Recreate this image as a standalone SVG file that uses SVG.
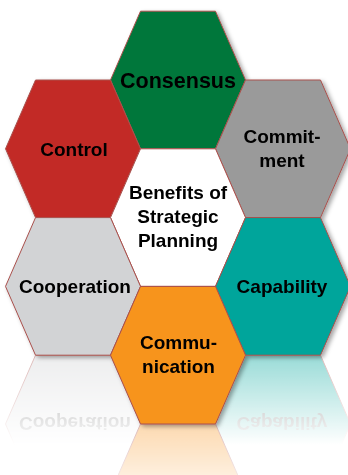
<svg xmlns="http://www.w3.org/2000/svg" width="348" height="475" viewBox="0 0 348 475">
  <style>
    .hex { stroke: #A9504C; stroke-width: 1; stroke-linejoin: miter; }
    .lbl { font-family: "Liberation Sans", Arial, sans-serif; font-weight: bold; font-size: 19px; fill: #000; text-anchor: middle; }
    .big { font-size: 21.5px; }
  </style>
  <defs>
    <filter id="shadow" x="-10%" y="-10%" width="125%" height="125%">
      <feDropShadow dx="2.5" dy="2" stdDeviation="2" flood-color="#000" flood-opacity="0.35"/>
    </filter>
    <linearGradient id="fadeA" gradientUnits="userSpaceOnUse" x1="0" y1="355.2" x2="0" y2="445">
      <stop offset="0" stop-color="#fff" stop-opacity="0.4"/>
      <stop offset="1" stop-color="#fff" stop-opacity="0"/>
    </linearGradient>
    <linearGradient id="fadeB" gradientUnits="userSpaceOnUse" x1="0" y1="424" x2="0" y2="514">
      <stop offset="0" stop-color="#fff" stop-opacity="0.35"/>
      <stop offset="1" stop-color="#fff" stop-opacity="0"/>
    </linearGradient>
    <mask id="maskA" maskUnits="userSpaceOnUse" x="0" y="355.2" width="348" height="120">
      <rect x="0" y="355.2" width="348" height="120" fill="url(#fadeA)"/>
    </mask>
    <mask id="maskB" maskUnits="userSpaceOnUse" x="0" y="424" width="348" height="51">
      <rect x="0" y="424" width="348" height="51" fill="url(#fadeB)"/>
    </mask>
  </defs>

  <!-- reflections -->
  <g id="reflections">
    <g mask="url(#maskA)">
      <use href="#cooperation" transform="matrix(1,0,0,-1,0,710.4)"/>
      <use href="#capability" transform="matrix(1,0,0,-1,0,710.4)"/>
    </g>
    <g mask="url(#maskB)">
      <use href="#communication" transform="matrix(1,0,0,-1,0,848)"/>
    </g>
  </g>

  <g id="nodes" filter="url(#shadow)">
    <g id="consensus">
      <path class="hex" fill="#03773A" d="M110.5,80 L140.5,11.2 L215.5,11.2 L245.5,80 L215.5,148.8 L140.5,148.8 Z"/>
      <text class="lbl big" x="178" y="88">Consensus</text>
    </g>
    <g id="control">
      <path class="hex" fill="#C22A27" d="M5.5,148.8 L35.5,80 L110.5,80 L140.5,148.8 L110.5,217.6 L35.5,217.6 Z"/>
      <text class="lbl" x="74" y="155.5">Control</text>
    </g>
    <g id="commitment">
      <path class="hex" fill="#9A9A9A" d="M215.5,148.8 L245.5,80 L320.5,80 L350.5,148.8 L320.5,217.6 L245.5,217.6 Z"/>
      <text class="lbl" x="282" y="143">Commit-</text>
      <text class="lbl" x="282" y="166.5">ment</text>
    </g>
    <g id="center">
      <path class="hex" fill="#FFFFFF" d="M110.5,217.6 L140.5,148.8 L215.5,148.8 L245.5,217.6 L215.5,286.4 L140.5,286.4 Z"/>
      <text class="lbl" x="178" y="199">Benefits of</text>
      <text class="lbl" x="178" y="223">Strategic</text>
      <text class="lbl" x="178" y="247">Planning</text>
    </g>
    <g id="cooperation">
      <path class="hex" fill="#D2D3D5" d="M5.5,286.4 L35.5,217.6 L110.5,217.6 L140.5,286.4 L110.5,355.2 L35.5,355.2 Z"/>
      <text class="lbl" x="75" y="293">Cooperation</text>
    </g>
    <g id="capability">
      <path class="hex" fill="#00A59B" d="M215.5,286.4 L245.5,217.6 L320.5,217.6 L350.5,286.4 L320.5,355.2 L245.5,355.2 Z"/>
      <text class="lbl" x="282" y="293">Capability</text>
    </g>
    <g id="communication">
      <path class="hex" fill="#F7941F" d="M110.5,355.2 L140.5,286.4 L215.5,286.4 L245.5,355.2 L215.5,424 L140.5,424 Z"/>
      <text class="lbl" x="178.5" y="349">Commu-</text>
      <text class="lbl" x="178.5" y="373">nication</text>
    </g>
  </g>

  <g id="connectors"/>
</svg>
